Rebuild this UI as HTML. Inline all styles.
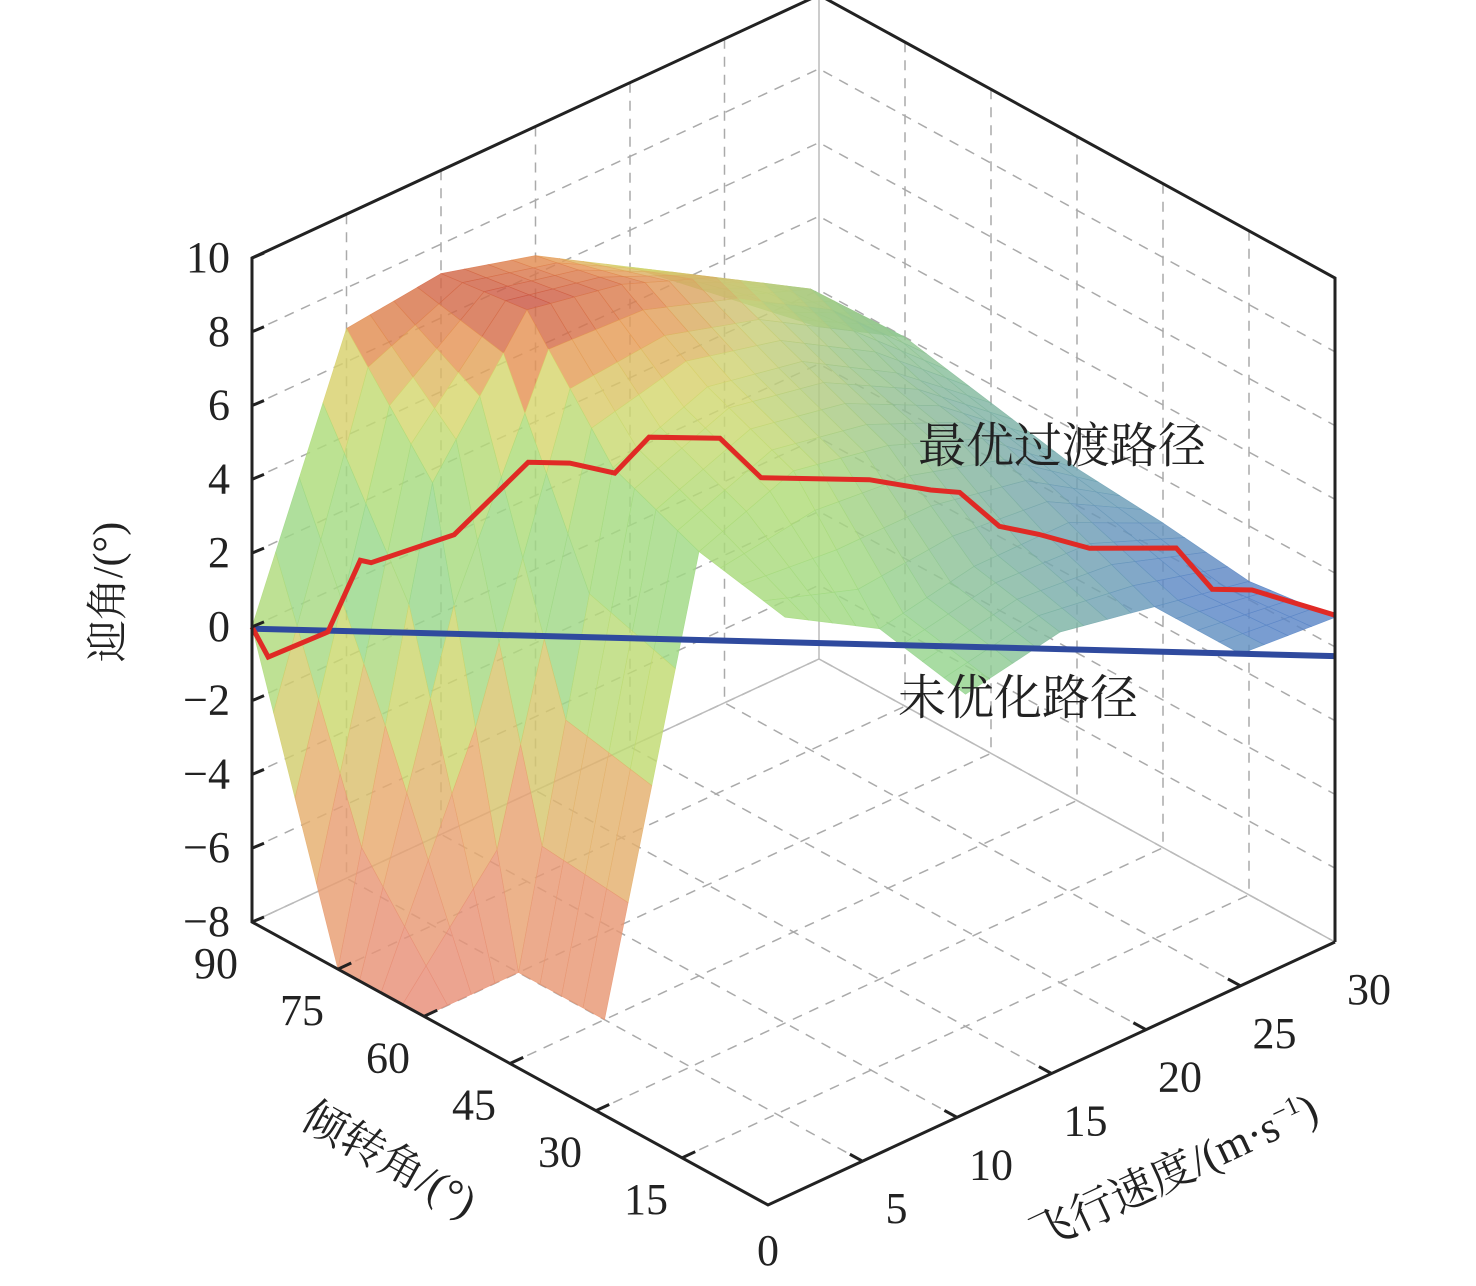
<!DOCTYPE html>
<html><head><meta charset="utf-8">
<style>
html,body{margin:0;padding:0;background:#fff;}
svg{display:block;}
text{font-family:"Liberation Serif","Noto Serif CJK SC","Noto Sans CJK SC",serif;fill:#222;}
</style></head>
<body>
<svg id="chart" width="1476" height="1286" viewBox="0 0 1476 1286" xmlns="http://www.w3.org/2000/svg">
<g id="grid"></g>
<g id="surf"></g>
<g id="lines"></g>
<g id="box"></g>
<g id="labels"></g>
<text x="0" y="0" font-size="42" text-anchor="middle" transform="translate(122,592) rotate(-90)">迎角/(°)</text>
<text x="0" y="0" font-size="44" text-anchor="middle" transform="translate(382,1172) rotate(29)">倾转角/(°)</text>
<text x="0" y="0" font-size="44" text-anchor="middle" transform="translate(1180,1185) rotate(-25)">飞行速度/(m·s<tspan font-size="26" dy="-16">−1</tspan><tspan dy="16">)</tspan></text>
<text x="918" y="462" font-size="48">最优过渡路径</text>
<text x="898" y="714" font-size="48">未优化路径</text>
</svg>
<script>
// ---- data ----
const banks = [90, 75, 60, 45, 30, 15, 0];
const speeds = [0, 5, 10, 15, 20, 25, 30];
const zRow90 = [0, 6.9, 7.2, 6.5, 5, 3, 1];
const zRow75 = [-8, 4, 7.5, 7, 6, 4.5, 2];
const zRow60 = [-8, -8, 4.5, 5.5, 5, 3.5, 1.5];
const zRow45 = [null, -8, 3.5, 4.5, 4, 3, 1];
const zRow30 = [null, null, 3, 1.5, 2, 2, 0.8];
const zRow15 = [null, null, null, 1, 1.5, 1, 0.5];
const zRow0 = [null, null, null, null, null, 1, 0.8];
const zRows = [zRow90, zRow75, zRow60, zRow45, zRow30, zRow15, zRow0];
const optSpeed = [0, 0.45, 2.1, 3.0, 3.3, 5.6, 7.65, 8.8, 10.05, 11.0, 12.96, 14.1, 17.1, 18.8, 19.6, 20.7, 21.8, 23.2, 25.6, 26.6, 27.7, 30];
const optAlpha = [0, -0.81, -0.1, 1.86, 1.8, 2.6, 4.6, 4.6, 4.35, 5.34, 5.35, 4.3, 4.3, 4.05, 4.0, 3.1, 2.9, 2.55, 2.6, 1.5, 1.5, 0.86];
const rawSpeed = [0, 30];
const rawAlpha = [-0.05, -0.25];
const zTicks = [-8, -6, -4, -2, 0, 2, 4, 6, 8, 10];
const bankTicks = [90, 75, 60, 45, 30, 15, 0];
const speedTicks = [5, 10, 15, 20, 25, 30];

// ---- projection ----
const O = [768, 1205], BU = [-516/90, -283/90], SU = [567/30, -263/30], ZU = 664/18;
function P(b, v, z){ return [O[0] + BU[0]*b + SU[0]*v, O[1] + BU[1]*b + SU[1]*v - (z+8)*ZU]; }
const NS = "http://www.w3.org/2000/svg";
function el(tag, attrs, parent){ const e = document.createElementNS(NS, tag); for (const k in attrs) e.setAttribute(k, attrs[k]); parent.appendChild(e); return e; }
function pts(a){ return a.map(p => p[0].toFixed(1)+","+p[1].toFixed(1)).join(" "); }

// ---- grid ----
const grid = document.getElementById('grid');
const gd = {stroke:"#aaa","stroke-width":1.5,"stroke-dasharray":"10,8",fill:"none"};
zTicks.forEach(z => {
  const l1 = el('polyline', Object.assign({points: pts([P(90,0,z),P(90,30,z),P(0,30,z)])}, gd), grid);
  
  
});
[5,10,15,20,25].forEach(v => {
  const l = el('polyline', Object.assign({points: pts([P(90,v,10),P(90,v,-8),P(0,v,-8)])}, gd), grid);
  
  
});
[75,60,45,30,15].forEach(b => {
  const l = el('polyline', Object.assign({points: pts([P(b,30,10),P(b,30,-8),P(b,0,-8)])}, gd), grid);
  
  
});
const sg = el('polyline', {points: pts([P(90,0,-8),P(90,30,-8),P(0,30,-8)]), stroke:"#bbb","stroke-width":1.5, fill:"none"}, grid);


const sv = el('line', {x1:P(90,30,-8)[0], y1:P(90,30,-8)[1], x2:P(90,30,10)[0], y2:P(90,30,10)[1], stroke:"#bbb","stroke-width":1.5}, grid);



// ---- surface ----
const stops = [[-8,[232,140,120]],[-4,[232,170,110]],[-1,[200,220,110]],[1,[150,215,140]],[4,[175,220,120]],[5.5,[215,215,110]],[6.5,[230,150,85]],[7.5,[200,80,65]],[8.5,[165,60,55]]];
function cmap(z, v, b){
  let c = stops[stops.length-1][1];
  for (let i=0;i<stops.length-1;i++){ if (z<=stops[i+1][0]){ const t=Math.max(0,(z-stops[i][0])/(stops[i+1][0]-stops[i][0])); c=stops[i][1].map((x,k)=>x+(stops[i+1][1][k]-x)*t); break; } }
  let w = Math.max(0, Math.min(1, (v-15)/12)) * Math.max(0, Math.min(1, 1.2 - b/75)) * 0.85;
  const blue = [80,120,210];
  c = c.map((x,k)=>Math.round(x+(blue[k]-x)*Math.min(1,w)));
  return "rgb("+c.join(",")+")";
}
const surf = document.getElementById('surf');
const quads = [];
const SUB = 4;
for (let i=0;i<banks.length-1;i++) for (let j=0;j<speeds.length-1;j++){
  const z00=zRows[i][j], z01=zRows[i][j+1], z10=zRows[i+1][j], z11=zRows[i+1][j+1];
  if ([z00,z01,z10,z11].some(z=>z===null)) continue;
  for (let a=0;a<SUB;a++) for (let c=0;c<SUB;c++){
    const cs = [[a,c],[a,c+1],[a+1,c+1],[a+1,c]].map(([u,w])=>{
      const fu=u/SUB, fw=w/SUB;
      const b = banks[i]+(banks[i+1]-banks[i])*fu, v = speeds[j]+(speeds[j+1]-speeds[j])*fw;
      const z = z00*(1-fu)*(1-fw)+z01*(1-fu)*fw+z10*fu*(1-fw)+z11*fu*fw;
      return [b,v,z];
    });
    const bm = cs.reduce((s,p)=>s+p[0],0)/4, vm = cs.reduce((s,p)=>s+p[1],0)/4, zm = cs.reduce((s,p)=>s+p[2],0)/4;
    quads.push({cs, bm, vm, zm, depth: bm*3.144 + vm*8.77});
  }
}
quads.sort((p,q)=>q.depth-p.depth);
quads.forEach(q=>{
  const col = cmap(q.zm, q.vm, q.bm);
  const poly = el('polygon', {points: pts(q.cs.map(p=>P(p[0],p[1],p[2]))), fill: col, stroke: col, "stroke-width":0.6, "fill-opacity":0.82, "stroke-opacity":0.82}, surf);
  
  
});

// ---- lines ----
const lines = document.getElementById('lines');
const rp = rawSpeed.map((v,k)=>P(90*(1-v/30), v, rawAlpha[k]));
const rl = el('polyline', {points: pts(rp), stroke:"#2f4a9e","stroke-width":6, fill:"none"}, lines);


const op = optSpeed.map((v,k)=>P(90*(1-v/30), v, optAlpha[k]));
const ol = el('polyline', {points: pts(op), stroke:"#e02a25","stroke-width":5, fill:"none","stroke-linejoin":"miter"}, lines);



// ---- box ----
const box = document.getElementById('box');
const bx = {stroke:"#222","stroke-width":3,fill:"none"};
const b1 = el('polyline', Object.assign({points: pts([P(0,30,-8),P(0,30,10),P(90,30,10),P(90,0,10),P(90,0,-8),P(0,0,-8),P(0,30,-8)])}, bx), box);



// ---- ticks & labels ----
const labels = document.getElementById('labels');
zTicks.forEach(z=>{
  const p = P(90,0,z);
  const t = el('line', {x1:p[0], y1:p[1], x2:p[0]+12, y2:p[1]-5, stroke:"#222","stroke-width":3}, box);
  
  
  const tx = el('text', {x:p[0]-22, y:p[1]+14, "font-size":44, "text-anchor":"end"}, labels);
  tx.textContent = z<0 ? "−"+(-z) : String(z);
  
  
});
bankTicks.forEach(b=>{
  const p = P(b,0,-8);
  if (b!==90 && b!==0){
    const t = el('line', {x1:p[0], y1:p[1], x2:p[0]+SU[0]*0.7, y2:p[1]+SU[1]*0.7, stroke:"#222","stroke-width":3}, box);
    
    
  }
  const tx = el('text', {x:p[0]-36, y:p[1]+56, "font-size":44, "text-anchor":"middle"}, labels);
  if (b===0){ tx.setAttribute('x', p[0]); tx.setAttribute('y', p[1]+60); }
  tx.textContent = String(b);
  
  
});
speedTicks.forEach(v=>{
  const p = P(0,v,-8);
  if (v!==30){
    const t = el('line', {x1:p[0], y1:p[1], x2:p[0]+BU[0]*2.2, y2:p[1]+BU[1]*2.2, stroke:"#222","stroke-width":3}, box);
    
    
  }
  const tx = el('text', {x:p[0]+34, y:p[1]+62, "font-size":44, "text-anchor":"middle"}, labels);
  tx.textContent = String(v);
  
  
});
</script>
</body></html>
